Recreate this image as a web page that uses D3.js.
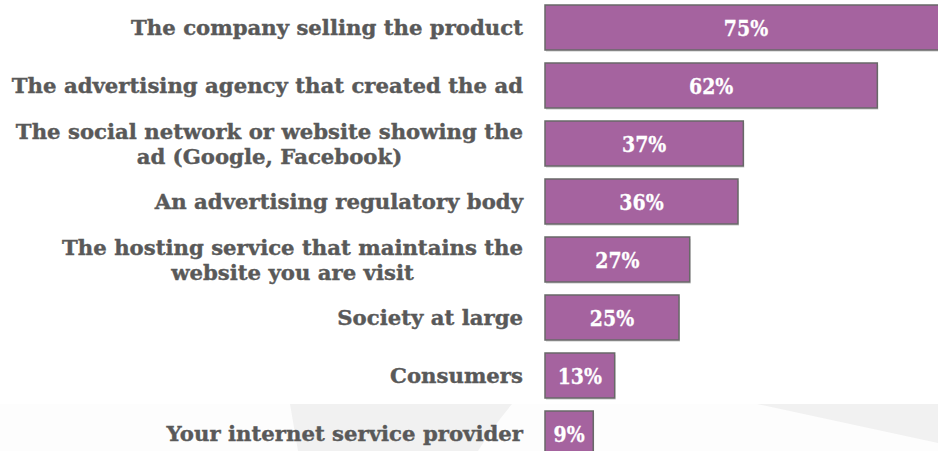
<!DOCTYPE html>
<html>
<head>
<meta charset="utf-8">
<script src="https://cdn.jsdelivr.net/npm/d3@7/dist/d3.min.js"></script>
<style>
  html, body { margin: 0; padding: 0; background: #ffffff; }
  svg { display: block; }
</style>
</head>
<body>
<svg id="chart" width="938" height="451"></svg>
<script>
// Who is responsible for an ad — share of respondents
const categories = [
  ["The company selling the product"],
  ["The advertising agency that created the ad"],
  ["The social network or website showing the", "ad (Google, Facebook)"],
  ["An advertising regulatory body"],
  ["The hosting service that maintains the", "website you are visit"],
  ["Society at large"],
  ["Consumers"],
  ["Your internet service provider"]
];
const values = [75, 62, 37, 36, 27, 25, 13, 9];
const valueLabels = ["75%", "62%", "37%", "36%", "27%", "25%", "13%", "9%"];

const W = 938, H = 451;
const svg = d3.select("#chart");
const font = "'DejaVu Serif', serif";

// faint decorative backdrop along the bottom edge
const deco = svg.append("g");
deco.append("rect").attr("x", 0).attr("y", 404).attr("width", W).attr("height", H - 404).attr("fill", "#fdfdfd");
deco.append("path")
  .attr("d", "M290,404 L512,404 Q492,428 478,451 L298,451 Z")
  .attr("fill", "#f1f1f1");
deco.append("path")
  .attr("d", "M757,404 L938,404 L938,443 Z")
  .attr("fill", "#f1f1f1");

const ids = d3.range(categories.length);
const y = d3.scaleBand()
  .domain(ids)
  .range([5, 456])
  .paddingInner(13 / 58)
  .paddingOuter(0);

const x = d3.scaleLinear().domain([0, 75]).range([545, 947]);

const rows = svg.append("g").selectAll("g")
  .data(ids)
  .join("g");

// soft shadow under each bar
rows.append("rect")
  .attr("x", x(0) + 1)
  .attr("y", i => y(i) + 2)
  .attr("width", i => x(values[i]) - x(0))
  .attr("height", y.bandwidth())
  .attr("fill", "#e2e2e2");

rows.append("rect")
  .attr("x", x(0))
  .attr("y", i => y(i))
  .attr("width", i => x(values[i]) - x(0))
  .attr("height", y.bandwidth())
  .attr("fill", "#a5639f")
  .attr("stroke", "#686868")
  .attr("stroke-width", 1.5);

// value labels, set in a narrowed serif
rows.append("text")
  .attr("transform", i => `translate(${(x(0) + x(values[i])) / 2},${y(i) + y.bandwidth() / 2 + 8.5}) scale(0.86,1)`)
  .attr("text-anchor", "middle")
  .attr("font-family", font)
  .attr("font-weight", "bold")
  .attr("font-size", 22)
  .attr("fill", "#ffffff")
  .attr("stroke", "#ffffff")
  .attr("stroke-width", 0.3)
  .text(i => valueLabels[i]);

// category labels: block right-aligned, lines centred within the block
const labelRight = 523;
const lineGap = 24.5;
const labelTexts = [];
rows.each(function(i) {
  const g = d3.select(this);
  const lines = categories[i];
  const cy = y(i) + y.bandwidth() / 2;
  const t = g.append("text")
    .attr("font-family", font)
    .attr("font-weight", "bold")
    .attr("font-size", 21)
    .attr("fill", "#595959")
    .attr("stroke", "#595959")
    .attr("stroke-width", 0.4)
    .attr("text-anchor", "middle");
  const firstBase = lines.length > 1 ? cy - 4 : cy + 8;
  const spans = lines.map((s, k) => t.append("tspan").attr("y", firstBase + k * lineGap).text(s));
  const widest = d3.max(spans, sp => sp.node().getComputedTextLength());
  spans.forEach(sp => sp.attr("x", -widest / 2));
  labelTexts.push({ t, widest });
});

// fit the labels so the first one spans its measured width
const targetFirst = 392;
const sx = targetFirst / labelTexts[0].widest;
labelTexts.forEach(({ t }) => t.attr("transform", `translate(${labelRight},0) scale(${sx},1)`));
</script>
</body>
</html>
